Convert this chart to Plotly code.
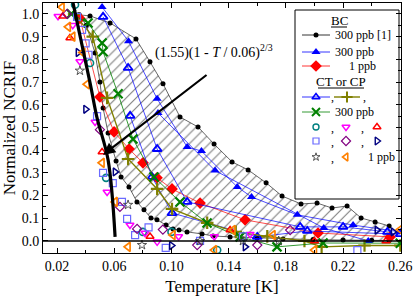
import plotly.graph_objects as go

# ---------------- data ----------------
# BC 300 ppb [1] : upper and lower boundary of the hatched band
bc300ref_up_T = [0.0354, 0.0431, 0.0571, 0.0752, 0.0850, 0.0941, 0.1060, 0.1186, 0.1298, 0.1424,
                 0.1536, 0.1662, 0.1773, 0.1906, 0.2018, 0.2123, 0.2228, 0.2326, 0.2424, 0.2522]
bc300ref_up_N = [0.996, 0.991, 0.960, 0.890, 0.789, 0.692, 0.546, 0.502, 0.427, 0.348,
                 0.313, 0.256, 0.198, 0.163, 0.167, 0.145, 0.154, 0.101, 0.084, 0.066]
bc300ref_lo_T = [0.0354, 0.0405, 0.0466, 0.0500, 0.0522, 0.0557, 0.0613, 0.0648, 0.0703, 0.0759,
                 0.0808, 0.0857, 0.0899, 0.0962, 0.1011, 0.1053, 0.1109, 0.1214, 0.1291, 0.1410,
                 0.1599, 0.1780, 0.1990, 0.2200, 0.2400, 0.2522]
bc300ref_lo_N = [0.996, 0.950, 0.828, 0.700, 0.586, 0.476, 0.352, 0.282, 0.238, 0.172,
                 0.137, 0.101, 0.093, 0.070, 0.053, 0.048, 0.040, 0.031, 0.022, 0.018,
                 0.013, 0.009, 0.006, 0.004, 0.003, 0.002]

# BC 300 ppb (blue filled triangles), two runs
bc300a_T = [0.0515, 0.0700, 0.0900, 0.1110, 0.1210, 0.1460, 0.1560, 0.1880, 0.2270, 0.2600]
bc300a_N = [1.030, 0.880, 0.626, 0.414, 0.396, 0.238, 0.194, 0.115, 0.070, 0.040]
bc300b_T = [0.0906, 0.1305, 0.2065, 0.2376]
bc300b_N = [0.564, 0.310, 0.057, 0.000]

# BC 1 ppb (red filled diamonds)
bc1_T = [0.0360, 0.0500, 0.0599, 0.0704, 0.0801, 0.0899, 0.1004, 0.1200, 0.1515, 0.2025, 0.2529]
bc1_N = [0.980, 0.634, 0.480, 0.405, 0.344, 0.278, 0.229, 0.167, 0.093, 0.035, 0.018]

# CT or CP, 300 ppb
ct300a_T = [0.0522, 0.0697, 0.0900, 0.1110, 0.1900, 0.2200, 0.2510]
ct300a_N = [0.987, 0.762, 0.405, 0.172, 0.062, 0.062, 0.040]
ct300b_T = [0.0711, 0.0864, 0.1004, 0.1600, 0.1950, 0.2600]
ct300b_N = [0.551, 0.282, 0.123, 0.018, 0.044, 0.030]
ct300c_T = [0.0320, 0.0450, 0.0550, 0.0697, 0.0900, 0.1004, 0.1250, 0.1450, 0.1670, 0.1930, 0.2050, 0.2350, 0.2600]
ct300c_N = [1.000, 0.900, 0.630, 0.361, 0.229, 0.141, 0.080, 0.040, 0.020, 0.000, -0.026, -0.020, -0.020]
ct300d_T = [0.0300, 0.0417, 0.0515, 0.0522, 0.0627, 0.0731, 0.0878, 0.1060, 0.1249, 0.1480, 0.1738, 0.2060, 0.2600]
ct300d_N = [1.000, 0.960, 0.872, 0.833, 0.648, 0.449, 0.282, 0.172, 0.079, 0.018, -0.026, -0.009, -0.010]

# CT or CP, 1 ppb (open markers)
c1_circ_T = [0.0326, 0.0431, 0.0543, 0.0800, 0.1000, 0.1320]
c1_circ_N = [1.040, 0.784, 0.278, 0.040, 0.040, -0.040]
c1_dtri_T = [0.0207, 0.0310, 0.0360, 0.0466, 0.0550, 0.0710, 0.0815, 0.0900, 0.1050, 0.1300, 0.1550]
c1_dtri_N = [0.990, 0.950, 0.790, 0.524, 0.216, 0.070, 0.035, -0.004, 0.020, 0.020, 0.030]
c1_utri_T = [0.0240, 0.0290, 0.0515, 0.0850, 0.1410, 0.2000, 0.2500]
c1_utri_N = [0.990, 0.894, 0.392, 0.020, 0.048, 0.000, 0.000]
c1_sq_T = [0.0340, 0.0375, 0.0400, 0.0420, 0.0480, 0.0522, 0.0590, 0.0654, 0.0690, 0.0746, 0.0840, 0.0960, 0.1200, 0.1500, 0.2300]
c1_sq_N = [0.987, 0.930, 0.870, 0.820, 0.550, 0.300, 0.255, 0.172, 0.097, 0.026, 0.060, -0.030, 0.000, 0.020, -0.040]
c1_dia_T = [0.0270, 0.0500, 0.0640, 0.0760, 0.0940, 0.1180, 0.1600, 0.1830]
c1_dia_N = [1.000, 0.490, 0.150, 0.053, 0.050, -0.018, -0.018, 0.048]
c1_rtri_T = [0.0347, 0.0400, 0.0606, 0.1000, 0.1515, 0.2437, 0.2550]
c1_rtri_N = [0.830, 0.580, 0.304, -0.020, -0.026, 0.048, 0.040]
c1_star_T = [0.0360, 0.0697, 0.0794, 0.1200, 0.1500, 0.1750]
c1_star_N = [0.750, 0.159, -0.018, 0.000, 0.000, 0.000]
c1_ltri_T = [0.0235, 0.0279, 0.0310, 0.0380, 0.0410, 0.0515, 0.0606, 0.0697, 0.1010, 0.1300, 0.1430, 0.1710, 0.2000, 0.2600]
c1_ltri_N = [1.030, 0.943, 0.900, 0.830, 0.690, 0.344, 0.172, -0.026, 0.026, -0.040, 0.048, 0.026, -0.040, 0.050]

# power-law guide (1.55)(1 - T/0.06)^(2/3)
guide_T = [0.0312, 0.0431, 0.0480, 0.0557, 0.0606]
guide_N = [1.048, 0.696, 0.542, 0.357, 0.018]

x_ticks = [0.02, 0.06, 0.10, 0.14, 0.18, 0.22, 0.26]
y_ticks = [0.0, 0.1, 0.2, 0.3, 0.4, 0.5, 0.6, 0.7, 0.8, 0.9, 1.0]

FONT = "Liberation Serif"
BLUE = "#0000FF"
RED = "#FF0000"
GREEN = "#008000"
OLIVE = "#808000"

fig = go.Figure()

# hatched band between the two BC 300 ppb [1] curves
fig.add_trace(go.Scatter(
    x=bc300ref_up_T + bc300ref_lo_T[::-1],
    y=bc300ref_up_N + bc300ref_lo_N[::-1],
    mode="lines", fill="toself", line=dict(width=0),
    fillcolor="rgba(0,0,0,0)",
    fillpattern=dict(shape="/", fgcolor="black", bgcolor="rgba(255,255,255,0)", size=7, solidity=0.16),
    hoverinfo="skip", showlegend=False))

def line_marker(x, y, color, symbol, size=7, lw=0.8, mlw=1.6, mode="lines+markers"):
    fig.add_trace(go.Scatter(
        x=x, y=y, mode=mode,
        line=dict(color=color, width=lw),
        marker=dict(symbol=symbol, size=size, color=color,
                    line=dict(color=color, width=mlw)),
        showlegend=False))

# BC 300 ppb [1]
line_marker(bc300ref_up_T, bc300ref_up_N, "black", "circle", size=5, lw=0.6, mlw=0)
line_marker(bc300ref_lo_T, bc300ref_lo_N, "black", "circle", size=5, lw=0.6, mlw=0)
# BC 300 ppb
line_marker(bc300a_T, bc300a_N, BLUE, "triangle-up", size=8, lw=0.7, mlw=0)
line_marker(bc300b_T, bc300b_N, BLUE, "triangle-up", size=8, lw=0.7, mlw=0)
# BC 1 ppb
line_marker(bc1_T, bc1_N, RED, "diamond", size=9, lw=0.7, mlw=0)
# CT or CP 300 ppb
line_marker(ct300a_T, ct300a_N, BLUE, "triangle-up-open", size=8, lw=0.7, mlw=1.8)
line_marker(ct300b_T, ct300b_N, BLUE, "triangle-up-open", size=8, lw=0.7, mlw=1.8)
line_marker(ct300c_T, ct300c_N, OLIVE, "cross-thin-open", size=9, lw=1.4, mlw=2.2)
line_marker(ct300d_T, ct300d_N, GREEN, "x-thin-open", size=9, lw=0.8, mlw=2.2)
# CT or CP 1 ppb
line_marker(c1_circ_T, c1_circ_N, "#008080", "circle-open", size=7, mode="markers", mlw=1.6)
line_marker(c1_dtri_T, c1_dtri_N, "#FF00FF", "triangle-down-open", size=7, mode="markers", mlw=1.5)
line_marker(c1_utri_T, c1_utri_N, RED, "triangle-up-open", size=7, mode="markers", mlw=1.5)
line_marker(c1_sq_T, c1_sq_N, "#6A6AFF", "square-open", size=7, mode="markers", mlw=1.2)
line_marker(c1_dia_T, c1_dia_N, "#800080", "diamond-open", size=7, mode="markers", mlw=1.2)
line_marker(c1_rtri_T, c1_rtri_N, "#000080", "triangle-right-open", size=7, mode="markers", mlw=1.5)
line_marker(c1_star_T, c1_star_N, "#404040", "star-open", size=7, mode="markers", mlw=0.9)
line_marker(c1_ltri_T, c1_ltri_N, "#FF8000", "triangle-left-open", size=8, mode="markers", mlw=1.7)

# guide curve
fig.add_trace(go.Scatter(x=guide_T, y=guide_N, mode="lines", line=dict(color="black", width=3.2, shape="spline"),
                         showlegend=False))

# ---------------- custom legend on an overlay axis (0..1 box coords) ----------------
def fx(px):
    return (px - 43) / 358.0

def fy(py):
    return (253 - py) / 250.0

def leg_sample(px, py, color, symbol, size, mlw, line_len=0, lw=0.8):
    if line_len:
        fig.add_trace(go.Scatter(x=[fx(px - line_len), fx(px + line_len)], y=[fy(py), fy(py)],
                                 mode="lines", line=dict(color=color, width=lw),
                                 xaxis="x2", yaxis="y2", showlegend=False, hoverinfo="skip"))
    fig.add_trace(go.Scatter(x=[fx(px)], y=[fy(py)], mode="markers",
                             marker=dict(symbol=symbol, size=size, color=color, line=dict(color=color, width=mlw)),
                             xaxis="x2", yaxis="y2", showlegend=False, hoverinfo="skip"))

leg_sample(316, 35, "black", "circle", 5, 0, 14)
leg_sample(316, 52, BLUE, "triangle-up", 8, 0, 14)
leg_sample(316, 66, RED, "diamond", 9, 0, 14)
leg_sample(316, 97, BLUE, "triangle-up-open", 7, 1.6, 14)
leg_sample(347, 97, OLIVE, "cross-thin-open", 8, 2.0, 13, lw=1.4)
leg_sample(316, 112, GREEN, "x-thin-open", 8, 2.0, 14)
leg_sample(316, 127, "#008080", "circle-open", 6, 1.4)
leg_sample(346, 127, "#FF00FF", "triangle-down-open", 7, 1.4)
leg_sample(377, 127, RED, "triangle-up-open", 7, 1.4)
leg_sample(316, 141, "#6A6AFF", "square-open", 6, 1.2)
leg_sample(346, 141, "#800080", "diamond-open", 7, 1.2)
leg_sample(377, 141, "#000080", "triangle-right-open", 7, 1.4)
leg_sample(316, 157, "#404040", "star-open", 6, 0.9)
leg_sample(346, 157, "#FF8000", "triangle-left-open", 7, 1.6)

anns = []
def leg_text(px, py, text, anchor="left", size=12):
    anns.append(dict(x=fx(px), y=fy(py), xref="x2", yref="y2", text=text, showarrow=False,
                     xanchor=anchor, yanchor="middle", font=dict(family=FONT, size=size, color="black")))

leg_text(339, 20, "BC", "center", 13)
leg_text(333, 35, "300 ppb [1]")
leg_text(333, 52, "300 ppb")
leg_text(347, 66, "1 ppb")
leg_text(341, 81, "CT or CP", "center", 13)
leg_text(332, 97, ",", "center")
leg_text(364, 97, ",", "center")
leg_text(333, 112, "300 ppb")
for py in (128, 142, 158):
    leg_text(332, py, ",", "center")
for py in (128, 142):
    leg_text(362, py, ",", "center")
leg_text(366, 157, "1 ppb")

# formula + arrow
anns.append(dict(x=0.1295, y=0.833, xref="x", yref="y", showarrow=False,
                 text="(1.55)(1 - <i>T</i> / 0.06)<sup>2/3</sup>",
                 font=dict(family=FONT, size=14, color="black")))
anns.append(dict(x=0.0522, y=0.379, xref="x", yref="y", ax=0.1256, ay=0.736, axref="x", ayref="y",
                 text=" ", showarrow=True, arrowhead=2, arrowsize=1.1, arrowwidth=2.2, arrowcolor="black",
                 font=dict(size=1)))

shapes = [
    dict(type="rect", xref="x2", yref="y2", x0=fx(295), x1=fx(399), y0=fy(199), y1=fy(10),
         line=dict(color="black", width=1), fillcolor="white", layer="below"),
    dict(type="line", xref="x2", yref="y2", x0=fx(331), x1=fx(347), y0=fy(27), y1=fy(27),
         line=dict(color="black", width=1)),
    dict(type="line", xref="x2", yref="y2", x0=fx(318), x1=fx(364), y0=fy(88), y1=fy(88),
         line=dict(color="black", width=1)),
    dict(type="line", xref="x", yref="y", x0=0.0102, x1=0.2605, y0=0, y1=0,
         line=dict(color="black", width=1.5)),
]

axis_common = dict(showgrid=False, zeroline=False, showline=True, linecolor="black", linewidth=1,
                   mirror="ticks", ticks="inside", ticklen=5, tickcolor="black", tickwidth=1,
                   automargin=False,
                   tickfont=dict(family=FONT, size=14, color="black"))

fig.update_layout(
    width=415, height=296,
    margin=dict(l=43, r=14, t=3, b=43, autoexpand=False),
    paper_bgcolor="white", plot_bgcolor="white",
    showlegend=False,
    font=dict(family=FONT, color="black"),
    xaxis=dict(range=[0.0102, 0.2605], tickvals=x_ticks, ticktext=[f"{v:.2f}" for v in x_ticks],
               minor=dict(tickvals=[0.04, 0.08, 0.12, 0.16, 0.20, 0.24], ticks="inside", ticklen=3, tickcolor="black"),
               title=dict(text="Temperature [K]", font=dict(family=FONT, size=17)),
               **axis_common),
    yaxis=dict(range=[-0.053, 1.048], tickvals=y_ticks, ticktext=[f"{v:.1f}" for v in y_ticks],
               minor=dict(dtick=0.05, tick0=0.05, ticks="inside", ticklen=3, tickcolor="black"),
               title=dict(text="Normalized NCRIF", font=dict(family=FONT, size=17)),
               **axis_common),
    xaxis2=dict(overlaying="x", range=[0, 1], visible=False, fixedrange=True),
    yaxis2=dict(overlaying="y", range=[0, 1], visible=False, fixedrange=True),
    annotations=anns,
    shapes=shapes,
)

fig.write_html("out.html", config={"displayModeBar": False},
               post_script="document.body.style.margin='0';document.body.style.padding='0';")
